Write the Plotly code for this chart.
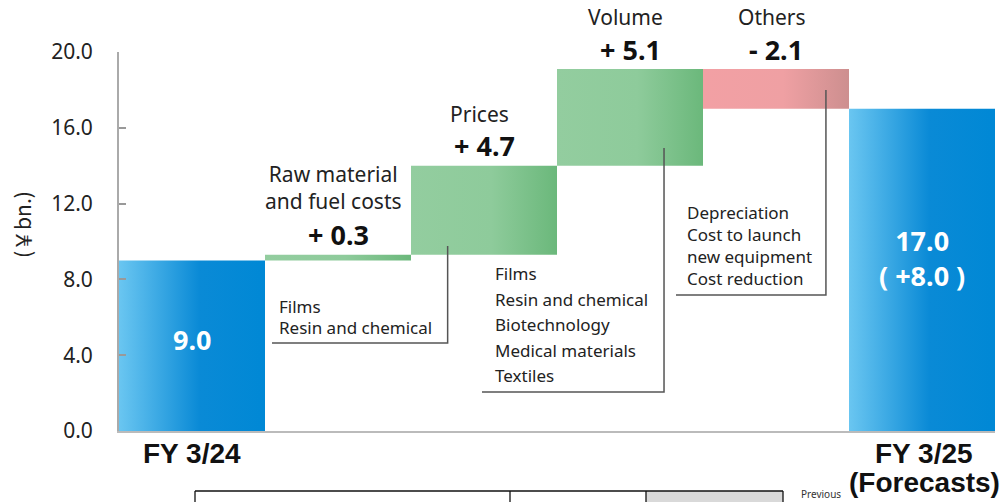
import plotly.graph_objects as go

# ---------------- data ----------------
CATEGORIES = ["FY 3/24", "Raw material<br>and fuel costs", "Prices", "Volume", "Others", "FY 3/25<br>(Forecasts)"]
START_VALUE = 9.0
CHANGES = [0.3, 4.7, 5.1, -2.1]
END_VALUE = 17.0
END_DELTA = 8.0
BREAKDOWN = {
    1: ["Films", "Resin and chemical"],
    2: ["Films", "Resin and chemical", "Biotechnology", "Medical materials", "Textiles"],
    4: ["Depreciation", "Cost to launch", "new equipment", "Cost reduction"],
}
Y_TICKS = [0, 4, 8, 12, 16, 20]

# ---------------- styles ----------------
FONT = "Noto Sans"
BOLD_FONT = "Liberation Sans, Arial"
BLUE = [[0, "#6ac6f1"], [0.55, "#0a8ad6"], [1, "#0088d5"]]
GREEN = [[0, "#93cd9f"], [0.55, "#8ecb9b"], [1, "#6bb87b"]]
PINK = [[0, "#f2a0a4"], [0.55, "#efa0a3"], [1, "#cd8f8f"]]

# build bar extents
bars = [(0.0, START_VALUE, BLUE)]
cum = START_VALUE
for c in CHANGES:
    bars.append((cum, cum + c, GREEN if c >= 0 else PINK))
    cum += c
bars.append((0.0, END_VALUE, BLUE))

fig = go.Figure()
for i, (a, b, cs) in enumerate(bars):
    lo, hi = min(a, b), max(a, b)
    fig.add_trace(go.Scatter(
        x=[i - 0.5, i + 0.5, i + 0.5, i - 0.5, i - 0.5],
        y=[lo, lo, hi, hi, lo],
        mode="lines", fill="toself", line=dict(width=0),
        fillgradient=dict(type="horizontal", colorscale=cs),
        hoverinfo="skip", showlegend=False,
    ))

# pixel helpers for decorations
L, T, W, H = 119, 52, 876, 379
def px(xp):
    return (xp - L) / W
def py(yp):
    return (T + H - yp) / H

annotations = []
# change labels above each change bar
for k, c in enumerate(CHANGES):
    i = k + 1
    a, b, _ = bars[i]
    top = max(a, b)
    sign = "+" if c >= 0 else "-"
    annotations.append(dict(x=i, y=top, text=f"<b>{sign} {abs(c):.1f}</b>", showarrow=False,
                            yanchor="middle", yshift=20,
                            font=dict(family=FONT, size=27, color="#111")))
    name = CATEGORIES[i]
    nlines = name.count("<br>") + 1
    annotations.append(dict(x=i - 0.03, y=top, text=name, showarrow=False,
                            yanchor="middle", yshift=52 + (nlines - 1) * 15,
                            font=dict(family=FONT, size=21, color="#222")))

# category labels of the total bars (below the axis)
first_lines = [CATEGORIES[0].split("<br>"), CATEGORIES[5].split("<br>")]
for xi, parts, dxp in ((0, first_lines[0], 0), (5, first_lines[1], 2)):
    for k, t in enumerate(parts):
        annotations.append(dict(x=xi, y=py(453 + 29 * k), yref="paper", text=f"<b>{t}</b>",
                                showarrow=False, xanchor="center", yanchor="middle", xshift=dxp,
                                font=dict(family=BOLD_FONT, size=28, color="#111")))

# values inside total bars
annotations.append(dict(x=0, y=START_VALUE / 2, text=f"<b>{START_VALUE:.1f}</b>", showarrow=False,
                        yshift=6, font=dict(family=FONT, size=27, color="white")))
annotations.append(dict(x=5, y=END_VALUE / 2, text=f"<b>{END_VALUE:.1f}</b><br><b>( +{END_DELTA:.1f} )</b>",
                        showarrow=False, yshift=12, font=dict(family=FONT, size=27, color="white")))

# callouts: (x of vertical line, y top, y bottom, x left end, line spacing px, text offset)
CALLOUTS = {
    1: (1.751, 9.76, 4.64, 0.548, 21, 0.035),
    2: (3.233, 14.93, 2.06, 1.986, 25.5, 0.075),
    4: (4.342, 18.0, 7.18, 3.315, 22, 0.062),
}
shapes = []
for i, (xv, yt, yb, xl, sp, dx) in CALLOUTS.items():
    shapes.append(dict(type="path", path=f"M {xv},{yt} L {xv},{yb} L {xl},{yb}",
                       xref="x", yref="y", line=dict(color="#555", width=1.5)))
    lines = BREAKDOWN[i]
    n = len(lines)
    for k, t in enumerate(lines):
        annotations.append(dict(x=xl + dx, y=yb, text=t, showarrow=False, xanchor="left",
                                yanchor="middle", yshift=16 + (n - 1 - k) * sp,
                                font=dict(family=FONT, size=17, color="#222")))

annotations.append(dict(xref="paper", yref="paper", x=px(22), y=py(225), text="(￥bn.)",
                        textangle=-90, showarrow=False, xanchor="center", yanchor="middle",
                        font=dict(family="Noto Sans CJK JP", size=21, color="#222")))
annotations.append(dict(xref="paper", yref="paper", x=px(821), y=py(494), text="Previous",
                        showarrow=False, xanchor="center", yanchor="middle",
                        font=dict(family=FONT, size=10, color="#333")))

# table stub at the bottom
shapes.append(dict(type="rect", xref="paper", yref="paper", x0=px(646), x1=px(783), y0=py(491), y1=py(540),
                   fillcolor="#d9d9d9", line=dict(width=0), layer="below"))
for xp in (195, 510, 646, 783):
    shapes.append(dict(type="line", xref="paper", yref="paper", x0=px(xp), x1=px(xp), y0=py(491), y1=py(540),
                       line=dict(color="#111", width=1.3)))
shapes.append(dict(type="line", xref="paper", yref="paper", x0=px(195), x1=px(783), y0=py(491), y1=py(491),
                   line=dict(color="#111", width=1.5)))

fig.update_layout(
    width=1002, height=502,
    margin=dict(l=L, r=1002 - L - W, t=T, b=502 - T - H, autoexpand=False),
    paper_bgcolor="white", plot_bgcolor="white",
    font=dict(family=FONT, color="#222"),
    showlegend=False,
    annotations=annotations,
    shapes=shapes,
    xaxis=dict(range=[-0.5, 5.5], showgrid=False, zeroline=False, showline=True,
               linecolor="#bbb", linewidth=2, ticks="", automargin=False, showticklabels=False),
    yaxis=dict(range=[0, 20], tickvals=Y_TICKS, tickformat=".1f", showgrid=False, zeroline=False,
               showline=True, linecolor="#aaa", linewidth=2, ticks="inside", ticklen=7, automargin=False,
               tickcolor="#999", tickwidth=1.5, ticklabelstandoff=20,
               tickfont=dict(family=FONT, size=21, color="#222")),
)

fig.write_html("out.html")
